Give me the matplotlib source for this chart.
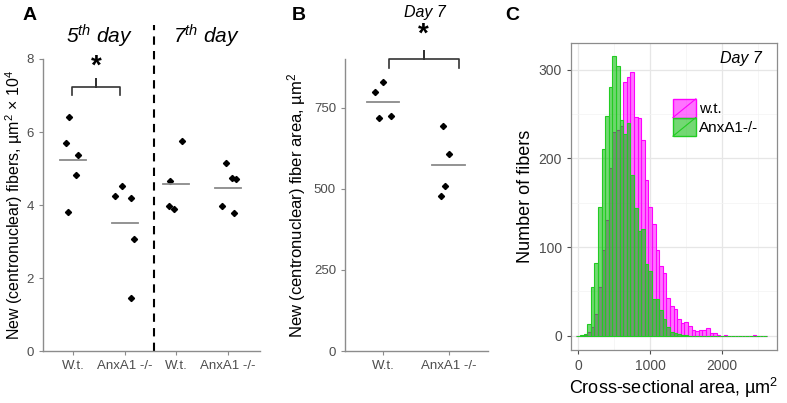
import numpy as np
import matplotlib
matplotlib.use("Agg")
import matplotlib.pyplot as plt
from matplotlib.patches import Patch, Rectangle
from matplotlib.lines import Line2D
from matplotlib.legend_handler import HandlerBase
from matplotlib.ticker import MultipleLocator

plt.rcParams['font.family'] = ['Liberation Sans', 'DejaVu Sans']
plt.rcParams['mathtext.fontset'] = 'custom'
plt.rcParams['mathtext.rm'] = 'Liberation Sans'
plt.rcParams['mathtext.it'] = 'Liberation Sans:italic'
plt.rcParams['mathtext.bf'] = 'Liberation Sans:bold'

# ---- panel A data: new fibers (x10^4 um^2) ----
groups_a = ["W.t.", "AnxA1 -/-", "W.t.", "AnxA1 -/-"]
day5_wt = [6.40, 5.71, 5.38, 4.82, 3.81]
day5_ko = [4.24, 4.52, 4.20, 3.06, 1.46]
day7_wt = [4.65, 3.98, 3.88, 5.74]
day7_ko = [5.16, 4.73, 4.71, 3.97, 3.78]
# horizontal jitter as seen in the figure
jit5_wt = [-0.08, -0.13, 0.10, 0.05, -0.10]
jit5_ko = [-0.19, -0.05, 0.12, 0.18, 0.13]
jit7_wt = [-0.12, -0.15, -0.04, 0.12]
jit7_ko = [-0.03, 0.08, 0.15, -0.11, 0.11]

# ---- panel B data: fiber area, day 7 ----
groups_b = ["W.t.", "AnxA1 -/-"]
area_wt = [798, 828, 717, 724]
area_ko = [695, 606, 510, 478]
jitb_wt = [-0.12, 0.0, -0.06, 0.12]
jitb_ko = [-0.08, 0.01, -0.05, -0.11]

# ---- panel C data: histogram counts, bins of 50 um^2 ----
bin_centers = list(range(0, 2650, 50))
counts_wt = [0, 0, 1, 4, 10, 25, 55, 97, 130, 189,
             230, 232, 236, 286, 292, 297, 247, 245, 221, 176,
             145, 126, 97, 79, 71, 43, 34, 30, 19, 14,
             15, 11, 7, 5, 6, 7, 9, 3, 3, 1,
             0, 1, 0, 0, 0, 0, 0, 0, 0, 1,
             0, 0, 0]
counts_ko = [0, 1, 2, 13, 55, 82, 145, 210, 248, 280,
             315, 304, 243, 228, 240, 181, 144, 118, 120, 81,
             73, 42, 41, 29, 19, 10, 4, 3, 2, 1,
             1, 0, 0, 0, 0, 0, 0, 0, 0, 0,
             0, 0, 0, 0, 0, 0, 0, 0, 0, 0,
             0, 0, 0]

tick_col = '#4d4d4d'
spine_col = '#8c8c8c'
wt_fill = (1, 0, 1, 0.55)
ko_fill = (0, 0.72, 0, 0.55)

fig = plt.figure(figsize=(7.87, 4.03), dpi=100)


def dot_axes(ax):
    for s in ['top', 'right']:
        ax.spines[s].set_visible(False)
    for s in ['left', 'bottom']:
        ax.spines[s].set_color(spine_col)
        ax.spines[s].set_linewidth(1.0)
    ax.tick_params(colors=spine_col, labelcolor=tick_col, labelsize=9.5,
                   length=3, width=0.8)


def strip(ax, x, vals, jit):
    ax.plot(np.array(x) + np.array(jit), vals, 'D', color='black', ms=3.1, mec='black')
    ax.plot([x - 0.25, x + 0.25], [np.mean(vals)] * 2, color='#8a8a8a', lw=1.3)


# ---------------- A ----------------
axA = fig.add_axes([0.0546, 0.129, 0.2757, 0.7246])
dot_axes(axA)
for i, (vals, jit) in enumerate([(day5_wt, jit5_wt), (day5_ko, jit5_ko),
                                  (day7_wt, jit7_wt), (day7_ko, jit7_ko)]):
    strip(axA, i + 1, vals, jit)
axA.set_xlim(0.42, 4.62)
axA.set_ylim(0, 8)
axA.set_yticks([0, 2, 4, 6, 8])
axA.set_xticks([1, 2, 3, 4])
axA.set_xticklabels(groups_a)
axA.set_ylabel('New (centronuclear) fibers, µm$^2$ × 10$^4$', fontsize=11.5, labelpad=1)
axA.plot([2.57, 2.57], [0, 1.116], transform=axA.get_xaxis_transform(),
         color='black', lw=1.5, ls=(0, (4, 3)), clip_on=False)
axA.text(1.52, 1.079, '5$^{th}$ day', transform=axA.get_xaxis_transform(),
         fontsize=15, style='italic', ha='center', va='center')
axA.text(3.59, 1.079, '7$^{th}$ day', transform=axA.get_xaxis_transform(),
         fontsize=15, style='italic', ha='center', va='center')
axA.plot([0.98, 0.98, 1.45, 1.45, 1.45, 1.91, 1.91],
         [7.01, 7.23, 7.23, 7.45, 7.23, 7.23, 7.01], color='#333333', lw=1.2, clip_on=False)
axA.text(1.45, 7.78, '*', fontsize=20, fontweight='bold', ha='center', va='center')
fig.text(23 / 787, 1 - 7 / 403, 'A', fontsize=14, fontweight='bold', ha='left', va='top')

# ---------------- B ----------------
axB = fig.add_axes([0.4384, 0.129, 0.1817, 0.7246])
dot_axes(axB)
strip(axB, 1, area_wt, jitb_wt)
strip(axB, 2, area_ko, jitb_ko)
axB.set_xlim(0.42, 2.6)
axB.set_ylim(0, 900)
axB.set_yticks([0, 250, 500, 750])
axB.set_xticks([1, 2])
axB.set_xticklabels(groups_b)
axB.set_ylabel('New (centronuclear) fiber area, µm$^2$', fontsize=12, labelpad=4)
axB.plot([1.09, 1.09, 1.62, 1.62, 1.62, 2.15, 2.15],
         [873, 901, 901, 926, 901, 901, 873], color='#333333', lw=1.2, clip_on=False)
axB.text(1.62, 975, '*', fontsize=20, fontweight='bold', ha='center', va='center', clip_on=False)
axB.text(1.63, 1043, 'Day 7', fontsize=11.5, style='italic', ha='center', va='center')
fig.text(292 / 787, 1 - 7 / 403, 'B', fontsize=14, fontweight='bold', ha='left', va='top')

# ---------------- C ----------------
axC = fig.add_axes([0.7255, 0.1315, 0.2618, 0.7618])
axC.bar(bin_centers, counts_wt, width=50, facecolor=wt_fill,
        edgecolor='#ff00ff', linewidth=0.8, zorder=2)
axC.bar(bin_centers, counts_ko, width=50, facecolor=ko_fill,
        edgecolor='#22cc22', linewidth=0.8, zorder=3)
axC.set_xlim(-100, 2763)
axC.set_ylim(-16, 330)
axC.xaxis.set_major_locator(MultipleLocator(1000))
axC.xaxis.set_minor_locator(MultipleLocator(500))
axC.yaxis.set_major_locator(MultipleLocator(100))
axC.yaxis.set_minor_locator(MultipleLocator(50))
axC.grid(which='major', color='#e6e6e6', lw=0.9, zorder=0)
axC.grid(which='minor', color='#f3f3f3', lw=0.5, zorder=0)
axC.set_axisbelow(True)
for s in axC.spines.values():
    s.set_color('#8c8c8c')
    s.set_linewidth(0.9)
axC.tick_params(which='major', colors='#4d4d4d', labelsize=10, length=3, width=0.8)
axC.tick_params(which='minor', length=0)
axC.set_ylabel('Number of fibers', fontsize=13, labelpad=3)
axC.set_xlabel('Cross-sectional area, µm$^2$', fontsize=13, labelpad=2)
axC.text(0.927, 0.948, 'Day 7', transform=axC.transAxes, fontsize=11.5,
         style='italic', ha='right', va='center')
fig.text(505 / 787, 1 - 7 / 403, 'C', fontsize=14, fontweight='bold', ha='left', va='top')


class KeyHandler(HandlerBase):
    def create_artists(self, legend, orig_handle, xdescent, ydescent,
                       width, height, fontsize, trans):
        fc = orig_handle.get_facecolor()
        ec = orig_handle.get_edgecolor()
        r = Rectangle((-xdescent, -ydescent), width, height, facecolor=fc,
                      edgecolor=ec, lw=1.0, transform=trans)
        ln = Line2D([-xdescent, -xdescent + width], [-ydescent, -ydescent + height],
                    color=ec, lw=0.8, transform=trans)
        return [r, ln]


handles = [Patch(facecolor=wt_fill, edgecolor='#ff00ff'),
           Patch(facecolor=ko_fill, edgecolor='#22cc22')]
axC.legend(handles, ['w.t.', 'AnxA1-/-'], handler_map={Patch: KeyHandler()},
           loc='upper left', bbox_to_anchor=(0.495, 0.818), frameon=False,
           fontsize=11, handlelength=1.5, handleheight=1.5, labelspacing=0.0,
           handletextpad=0.2, borderpad=0, borderaxespad=0)

fig.savefig('out.png', dpi=100)
